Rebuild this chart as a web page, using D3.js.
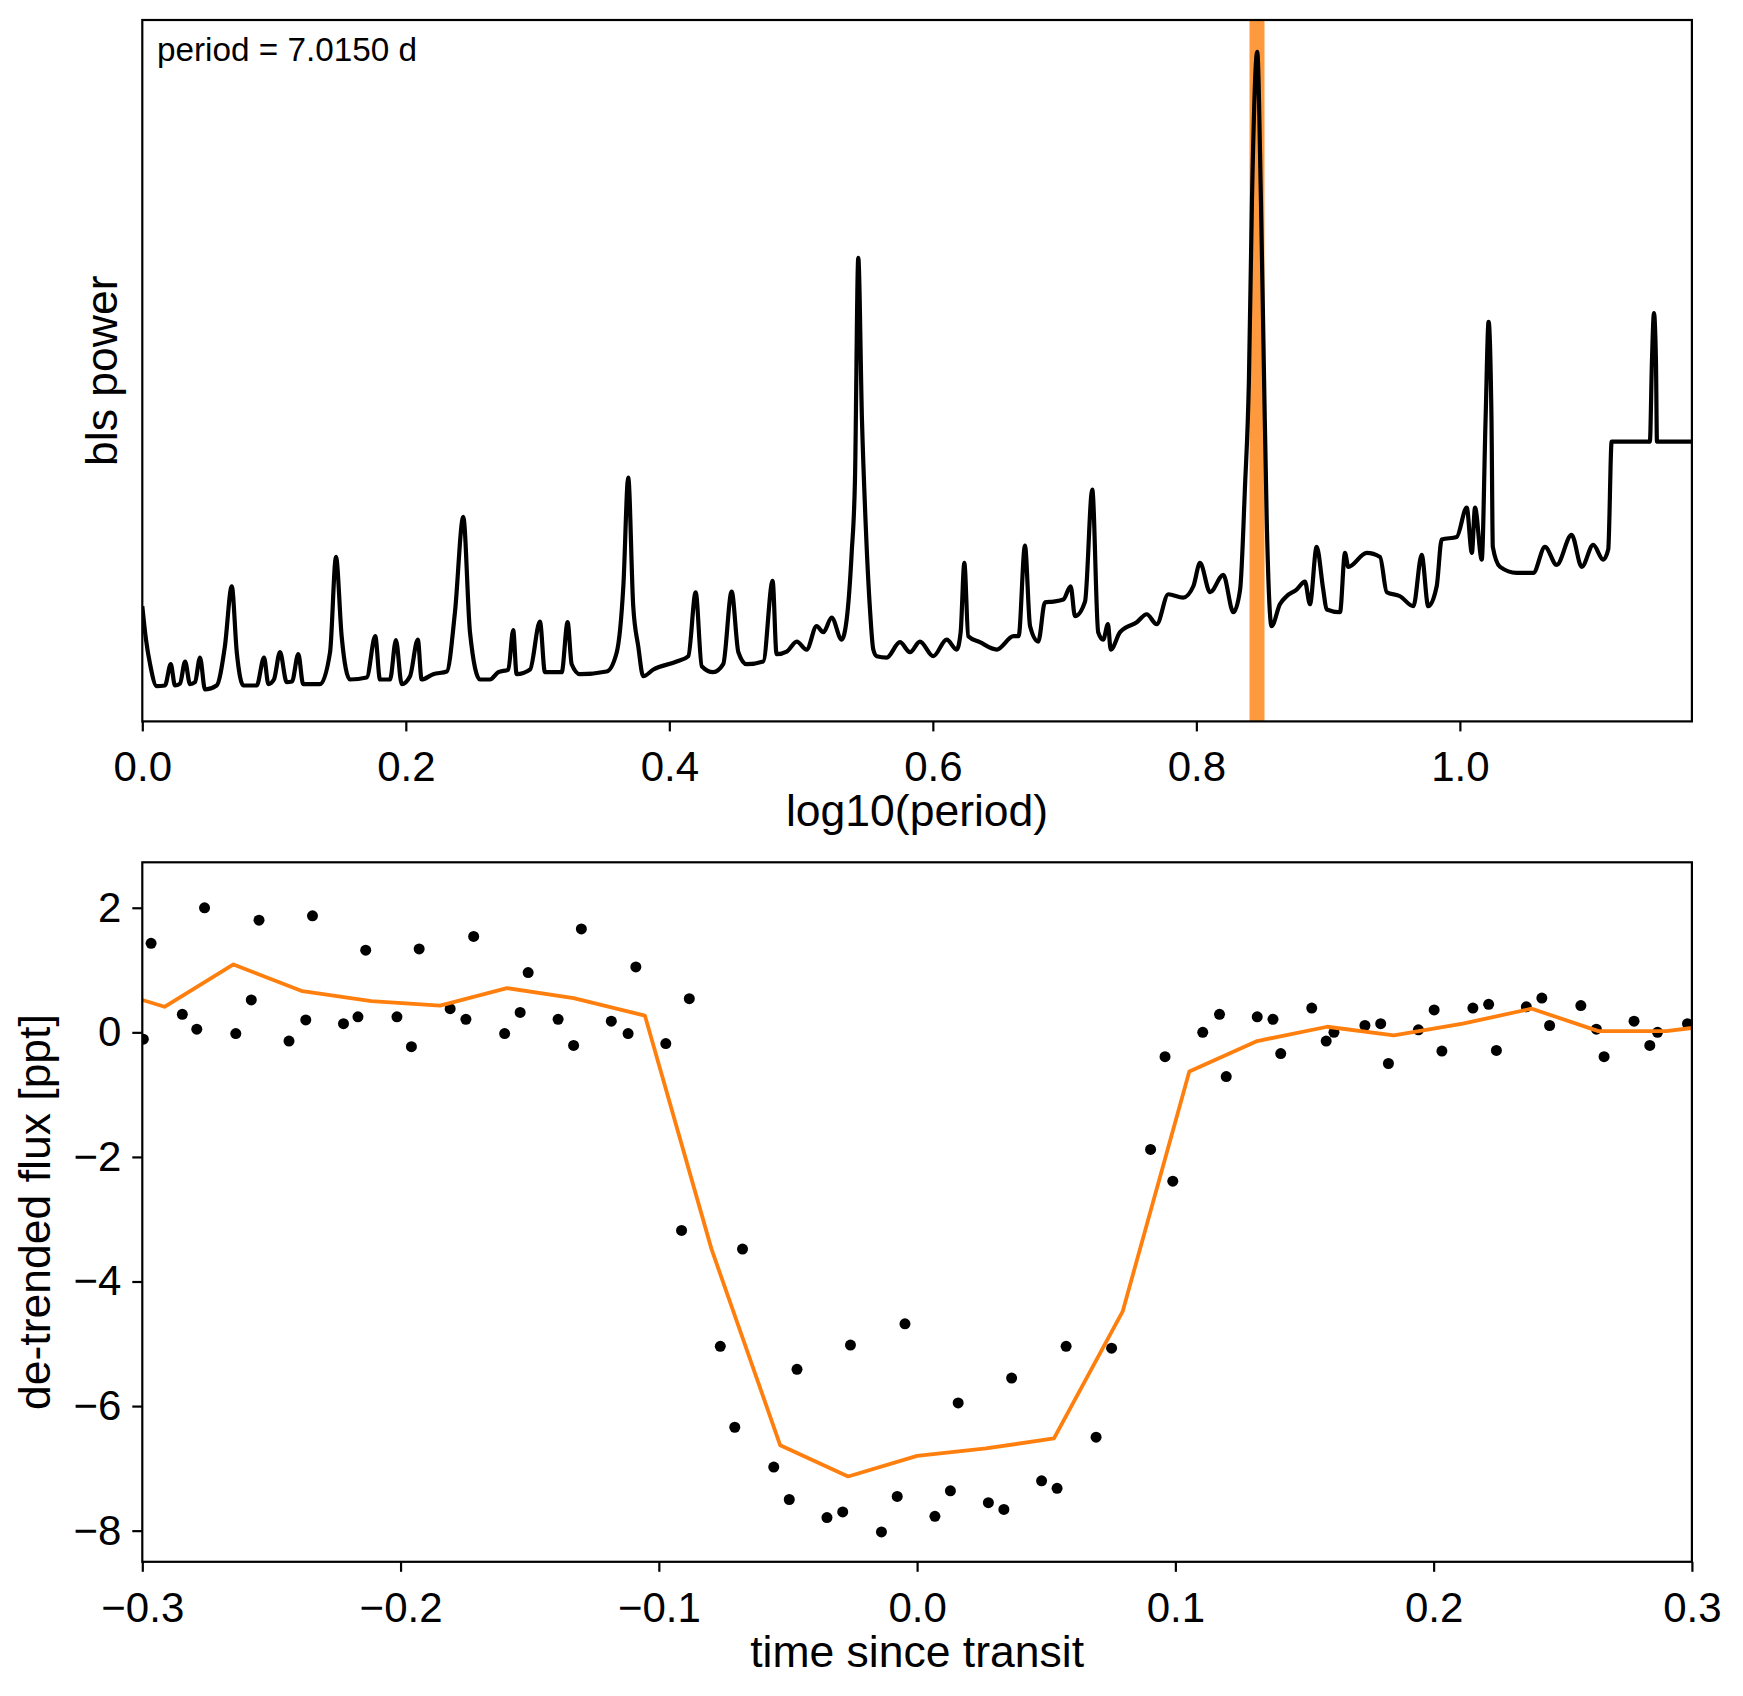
<!DOCTYPE html>
<html>
<head>
<meta charset="utf-8">
<script src="https://cdn.jsdelivr.net/npm/d3@7"></script>
<style>
    body { margin: 0; background: #fff; }
    svg { font-family: "Liberation Sans", Arial, sans-serif; }
</style>
</head>
<body>
<script>

// BLS periodogram (power in arbitrary units)
const logPeriod = [
    0.0000, 0.0028, 0.0059, 0.0109, 0.0172, 0.0216, 0.0248, 0.0286, 0.0325, 0.0362,
    0.0400, 0.0438, 0.0476, 0.0564, 0.0627, 0.0679, 0.0717, 0.0767, 0.0868, 0.0924,
    0.0957, 0.0999, 0.1045, 0.1096, 0.1136, 0.1184, 0.1221, 0.1349, 0.1425, 0.1470,
    0.1513, 0.1576, 0.1703, 0.1768, 0.1804, 0.1880, 0.1925, 0.1969, 0.2032, 0.2091,
    0.2120, 0.2208, 0.2311, 0.2373, 0.2436, 0.2487, 0.2563, 0.2639, 0.2702, 0.2778,
    0.2815, 0.2841, 0.2943, 0.3018, 0.3056, 0.3183, 0.3228, 0.3259, 0.3322, 0.3524,
    0.3601, 0.3651, 0.3688, 0.3726, 0.3764, 0.3802, 0.3879, 0.4056, 0.4144, 0.4200,
    0.4246, 0.4333, 0.4409, 0.4473, 0.4524, 0.4587, 0.4713, 0.4784, 0.4814, 0.4891,
    0.4967, 0.5042, 0.5118, 0.5169, 0.5232, 0.5308, 0.5346, 0.5384, 0.5409, 0.5434,
    0.5462, 0.5492, 0.5523, 0.5548, 0.5574, 0.5650, 0.5750, 0.5827, 0.5902, 0.6003,
    0.6105, 0.6181, 0.6211, 0.6239, 0.6269, 0.6357, 0.6485, 0.6613, 0.6651, 0.6699,
    0.6738, 0.6800, 0.6851, 0.6914, 0.6990, 0.7046, 0.7079, 0.7155, 0.7210, 0.7255,
    0.7293, 0.7329, 0.7350, 0.7421, 0.7548, 0.7623, 0.7699, 0.7787, 0.7900, 0.7977,
    0.8028, 0.8104, 0.8204, 0.8281, 0.8332, 0.8369, 0.8399, 0.8422, 0.8462, 0.8490,
    0.8514, 0.8534, 0.8571, 0.8634, 0.8685, 0.8761, 0.8824, 0.8862, 0.8913, 0.8963,
    0.8989, 0.9090, 0.9128, 0.9153, 0.9293, 0.9394, 0.9445, 0.9546, 0.9647, 0.9710,
    0.9760, 0.9824, 0.9862, 0.9976, 1.0052, 1.0091, 1.0115, 1.0166, 1.0195, 1.0218,
    1.0240, 1.0250, 1.0305, 1.0431, 1.0557, 1.0646, 1.0735, 1.0848, 1.0925, 1.1012,
    1.1088, 1.1126, 1.1152, 1.1442, 1.1458, 1.1473, 1.1488, 1.1496, 1.1761
];

const blsPower = [
    0.172, 0.122, 0.085, 0.052, 0.053, 0.085, 0.053, 0.056, 0.089, 0.055,
    0.058, 0.095, 0.047, 0.053, 0.112, 0.202, 0.103, 0.053, 0.053, 0.095,
    0.055, 0.062, 0.103, 0.058, 0.059, 0.100, 0.055, 0.055, 0.103, 0.246,
    0.127, 0.062, 0.065, 0.127, 0.062, 0.062, 0.121, 0.055, 0.067, 0.122,
    0.062, 0.070, 0.074, 0.163, 0.306, 0.133, 0.062, 0.062, 0.073, 0.077,
    0.136, 0.070, 0.077, 0.149, 0.073, 0.073, 0.148, 0.085, 0.070, 0.074,
    0.103, 0.202, 0.365, 0.172, 0.112, 0.067, 0.077, 0.089, 0.097, 0.193,
    0.082, 0.073, 0.085, 0.194, 0.103, 0.085, 0.089, 0.210, 0.100, 0.104,
    0.119, 0.107, 0.142, 0.133, 0.155, 0.122, 0.152, 0.252, 0.362, 0.695,
    0.452, 0.287, 0.167, 0.107, 0.097, 0.095, 0.118, 0.103, 0.119, 0.097,
    0.122, 0.107, 0.133, 0.237, 0.127, 0.118, 0.107, 0.127, 0.127, 0.263,
    0.142, 0.119, 0.178, 0.179, 0.182, 0.202, 0.157, 0.179, 0.347, 0.133,
    0.122, 0.145, 0.107, 0.133, 0.148, 0.160, 0.145, 0.190, 0.185, 0.202,
    0.237, 0.193, 0.219, 0.163, 0.197, 0.351, 0.512, 0.782, 1.004, 0.782,
    0.512, 0.302, 0.142, 0.175, 0.187, 0.197, 0.209, 0.175, 0.261, 0.197,
    0.167, 0.163, 0.252, 0.231, 0.252, 0.246, 0.193, 0.187, 0.172, 0.249,
    0.172, 0.202, 0.272, 0.276, 0.320, 0.252, 0.320, 0.242, 0.452, 0.599,
    0.452, 0.261, 0.231, 0.222, 0.222, 0.261, 0.234, 0.279, 0.231, 0.264,
    0.242, 0.257, 0.419, 0.419, 0.542, 0.612, 0.542, 0.419, 0.419
];

const periodGuess = 7.015;
const periodTicks = [0.0, 0.2, 0.4, 0.6, 0.8, 1.0];

// folded light curve
const foldTime = [
    -0.2996, -0.2966, -0.2845, -0.2789, -0.2759, -0.2638, -0.2578, -0.2548, -0.2432, -0.2367,
    -0.2341, -0.2221, -0.2165, -0.2135, -0.2014, -0.1958, -0.1928, -0.1808, -0.1747, -0.1717,
    -0.1597, -0.1537, -0.1506, -0.1390, -0.1330, -0.1300, -0.1184, -0.1119, -0.1089, -0.0973,
    -0.0912, -0.0882, -0.0762, -0.0706, -0.0676, -0.0555, -0.0495, -0.0465, -0.0349, -0.0288,
    -0.0258, -0.0138, -0.0077, -0.0047, 0.0069, 0.0129, 0.0159, 0.0276, 0.0336, 0.0366,
    0.0482, 0.0542, 0.0577, 0.0693, 0.0753, 0.0904, 0.0960, 0.0990, 0.1106, 0.1171,
    0.1197, 0.1317, 0.1378, 0.1408, 0.1528, 0.1584, 0.1614, 0.1734, 0.1795, 0.1825,
    0.1941, 0.2002, 0.2032, 0.2152, 0.2213, 0.2243, 0.2359, 0.2419, 0.2449, 0.2570,
    0.2630, 0.2660, 0.2776, 0.2837, 0.2867, 0.2983
];

const foldFlux = [
    -0.11, 1.43, 0.29, 0.05, 2.00, -0.02, 0.52, 1.80, -0.14, 0.20,
    1.87, 0.14, 0.25, 1.32, 0.25, -0.23, 1.34, 0.38, 0.21, 1.54,
    -0.02, 0.32, 0.96, 0.21, -0.21, 1.66, 0.18, -0.02, 1.05, -0.18,
    -3.18, 0.54, -5.04, -6.34, -3.48, -6.98, -7.50, -5.41, -7.79, -7.70,
    -5.02, -8.02, -7.45, -4.68, -7.77, -7.36, -5.95, -7.55, -7.66, -5.55,
    -7.20, -7.32, -5.04, -6.50, -5.07, -1.88, -0.39, -2.39, 0.00, 0.29,
    -0.71, 0.25, 0.21, -0.34, 0.39, -0.14, 0.00, 0.11, 0.14, -0.50,
    0.04, 0.36, -0.30, 0.39, 0.45, -0.29, 0.41, 0.55, 0.11, 0.43,
    0.05, -0.39, 0.18, -0.21, 0.00, 0.14
];

// binned model
const binTime = [
    -0.3000, -0.2914, -0.2647, -0.2380, -0.2113, -0.1847, -0.1588, -0.1330, -0.1054, -0.0796,
    -0.0530, -0.0267, 0.0000, 0.0267, 0.0530, 0.0796, 0.1054, 0.1317, 0.1588, 0.1846,
    0.2113, 0.2380, 0.2638, 0.2900, 0.3000
];
const binFlux = [
    0.52, 0.41, 1.09, 0.66, 0.50, 0.43, 0.71, 0.55, 0.27, -3.48,
    -6.63, -7.13, -6.80, -6.68, -6.52, -4.48, -0.63, -0.14, 0.09, -0.05,
    0.14, 0.38, 0.02, 0.02, 0.07
];

const timeRange = [-0.3, 0.3];
const timeTicks = [-0.3, -0.2, -0.1, 0.0, 0.1, 0.2, 0.3];
const fluxRange = [-8.5, 2.73];
const fluxTicks = [-8, -6, -4, -2, 0, 2];

const W = 1743, H = 1696;
const left = 142.3, right = 1691.9;
const top1 = 20, bottom1 = 721.4;
const top2 = 862.3, bottom2 = 1561.8;
const tickFont = 42;
const labelFont = 44.5;

const svg = d3.select("body").append("svg")
    .attr("width", W)
    .attr("height", H);

const defs = svg.append("defs");
defs.append("clipPath").attr("id", "clip-top")
    .append("rect").attr("x", left).attr("y", top1)
    .attr("width", right - left).attr("height", bottom1 - top1);
defs.append("clipPath").attr("id", "clip-bottom")
    .append("rect").attr("x", left).attr("y", top2)
    .attr("width", right - left).attr("height", bottom2 - top2);

const styleAxis = function (g) {
    g.attr("font-size", tickFont)
        .attr("font-family", "Liberation Sans, Arial, sans-serif");
    g.select(".domain").remove();
    g.selectAll(".tick line").attr("stroke", "#000").attr("stroke-width", 2.2);
    g.selectAll(".tick text").attr("fill", "#000");
};

// ---- top panel: periodogram ----

const x1 = d3.scaleLinear()
    .domain(d3.extent(logPeriod))
    .range([left, right]);

const [pMin, pMax] = d3.extent(blsPower);
const pPad = 0.05 * (pMax - pMin);
const y1 = d3.scaleLinear()
    .domain([pMin - pPad, pMax + pPad])
    .range([bottom1, top1]);

const topPanel = svg.append("g").attr("clip-path", "url(#clip-top)");

topPanel.append("line")
    .attr("x1", x1(Math.log10(periodGuess)))
    .attr("x2", x1(Math.log10(periodGuess)))
    .attr("y1", top1)
    .attr("y2", bottom1)
    .attr("stroke", "#ff7f0e")
    .attr("stroke-opacity", 0.8)
    .attr("stroke-width", 15);

const powerLine = d3.line()
    .x((d, i) => x1(logPeriod[i]))
    .y(d => y1(d))
    .curve(d3.curveMonotoneX);

topPanel.append("path")
    .datum(blsPower)
    .attr("d", powerLine)
    .attr("fill", "none")
    .attr("stroke", "#000")
    .attr("stroke-width", 4.2)
    .attr("stroke-linejoin", "round");

svg.append("g")
    .attr("transform", `translate(0,${bottom1})`)
    .call(d3.axisBottom(x1).tickValues(periodTicks).tickFormat(d3.format(".1f"))
        .tickSize(10).tickPadding(20))
    .call(styleAxis);

svg.append("rect")
    .attr("x", left).attr("y", top1)
    .attr("width", right - left).attr("height", bottom1 - top1)
    .attr("fill", "none").attr("stroke", "#000").attr("stroke-width", 2.2);

svg.append("text")
    .attr("x", 157)
    .attr("y", 61)
    .attr("font-size", 33.3)
    .text(`period = ${periodGuess.toFixed(4)} d`);

svg.append("text")
    .attr("transform", `translate(117,${(top1 + bottom1) / 2}) rotate(-90)`)
    .attr("text-anchor", "middle")
    .attr("font-size", labelFont)
    .text("bls power");

svg.append("text")
    .attr("x", (left + right) / 2)
    .attr("y", 826)
    .attr("text-anchor", "middle")
    .attr("font-size", labelFont)
    .text("log10(period)");

// ---- bottom panel: folded transit ----

const x2 = d3.scaleLinear().domain(timeRange).range([left, right]);
const y2 = d3.scaleLinear().domain(fluxRange).range([bottom2, top2]);

const bottomPanel = svg.append("g").attr("clip-path", "url(#clip-bottom)");

bottomPanel.selectAll("circle")
    .data(foldFlux)
    .join("circle")
    .attr("cx", (d, i) => x2(foldTime[i]))
    .attr("cy", d => y2(d))
    .attr("r", 5.5)
    .attr("fill", "#000");

const binLine = d3.line()
    .x((d, i) => x2(binTime[i]))
    .y(d => y2(d));

bottomPanel.append("path")
    .datum(binFlux)
    .attr("d", binLine)
    .attr("fill", "none")
    .attr("stroke", "#ff7f0e")
    .attr("stroke-width", 3.8)
    .attr("stroke-linejoin", "round");

svg.append("g")
    .attr("transform", `translate(0,${bottom2})`)
    .call(d3.axisBottom(x2).tickValues(timeTicks).tickFormat(d3.format(".1f"))
        .tickSize(10).tickPadding(20))
    .call(styleAxis);

svg.append("g")
    .attr("transform", `translate(${left},0)`)
    .call(d3.axisLeft(y2).tickValues(fluxTicks).tickFormat(d3.format("d"))
        .tickSize(10).tickPadding(11))
    .call(styleAxis);

svg.append("rect")
    .attr("x", left).attr("y", top2)
    .attr("width", right - left).attr("height", bottom2 - top2)
    .attr("fill", "none").attr("stroke", "#000").attr("stroke-width", 2.2);

svg.append("text")
    .attr("transform", `translate(50,${(top2 + bottom2) / 2}) rotate(-90)`)
    .attr("text-anchor", "middle")
    .attr("font-size", labelFont)
    .text("de-trended flux [ppt]");

svg.append("text")
    .attr("x", (left + right) / 2)
    .attr("y", 1667)
    .attr("text-anchor", "middle")
    .attr("font-size", labelFont)
    .text("time since transit");

</script>
</body>
</html>
